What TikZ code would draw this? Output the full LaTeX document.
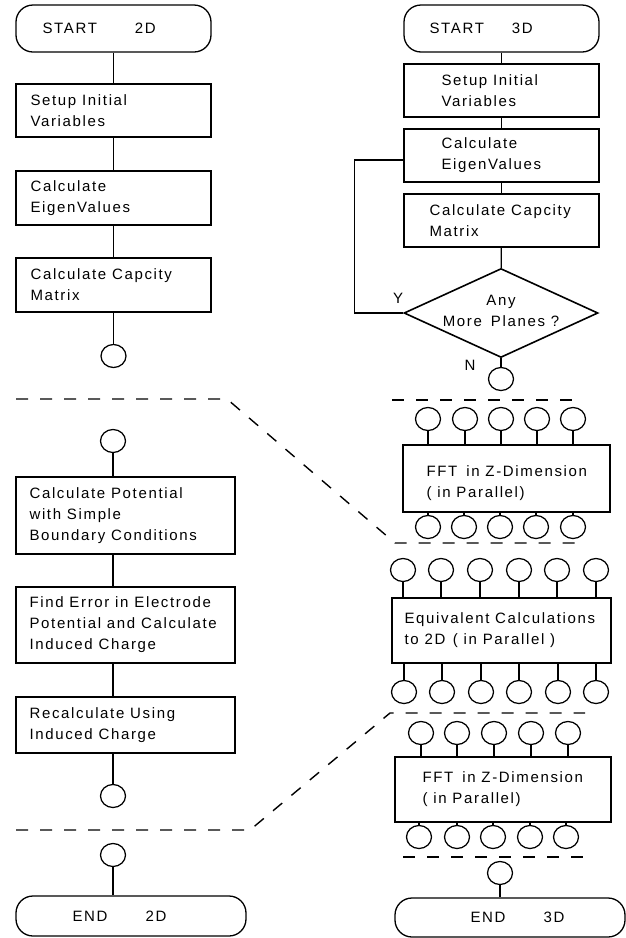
\documentclass[tikz,border=0pt]{standalone}
\usepackage{fontspec}
\setmainfont[LetterSpace=11]{Liberation Sans}
\usetikzlibrary{shapes.geometric}
\begin{document}
\begin{tikzpicture}[x=1pt,y=-1pt,
  ln/.style={line width=1.25pt},
  bx/.style 2 args={draw, line width=1.3pt, rectangle, minimum width=#1, minimum height=#2, inner sep=0pt},
  term/.style 2 args={draw, line width=1.3pt, rectangle, rounded corners=17pt, minimum width=#1, minimum height=#2, inner sep=0pt},
  dot/.style={draw, line width=1.25pt, ellipse, minimum width=25pt, minimum height=23pt, inner sep=0pt},
  txt/.style={inner sep=0pt, align=left, anchor=west, font=\fontsize{15}{21}\selectfont},
  lbl/.style={inner sep=0pt, font=\fontsize{15}{21}\selectfont},
  sep/.style={line width=1.4pt, dash pattern=on 12pt off 12pt},
]
\useasboundingbox (0,0) rectangle (626,938);

% ---------------- left column (2D) ----------------
\node[term={195pt}{47pt}] (s2) at (113.5,28.5) {};
\node[txt] (s2t) at ([xshift=27pt]s2.west) {START\hspace{38pt}2D};
\node[bx={195pt}{53pt}] (l1) at (113.5,110.5) {};
\node[txt] (l1t) at ([xshift=15pt]l1.west) {Setup Initial\\Variables};
\node[bx={195pt}{54pt}] (l2) at (113.5,198) {};
\node[txt] (l2t) at ([xshift=15pt]l2.west) {Calculate\\EigenValues};
\node[bx={195pt}{54pt}] (l3) at (113.5,285) {};
\node[txt] (l3t) at ([xshift=15pt]l3.west) {Calculate Capcity\\Matrix};
\node[dot] (lc1) at (113.5,356) {};
\draw[ln] (s2) -- (l1);
\draw[ln] (l1) -- (l2);
\draw[ln] (l2) -- (l3);
\draw[ln] (l3) -- (lc1);

\node[dot] (lc2) at (113,441) {};
\node[bx={219pt}{77pt}] (la) at (125.5,515.5) {};
\node[txt] (lat) at ([xshift=14pt]la.west) {Calculate Potential\\with Simple\\Boundary Conditions};
\node[bx={219pt}{76pt}] (lb) at (125.5,625) {};
\node[txt] (lbt) at ([xshift=14pt]lb.west) {Find Error in Electrode\\Potential and Calculate\\Induced Charge};
\node[bx={219pt}{56pt}] (lcb) at (125.5,725) {};
\node[txt] (lcbt) at ([xshift=14pt]lcb.west) {Recalculate Using\\Induced Charge};
\node[dot] (lc3) at (113,796) {};
\node[dot] (lc4) at (113,855) {};
\node[term={230pt}{40pt}] (e2) at (131,916) {};
\node[txt] (e2t) at ([xshift=57pt]e2.west) {END\hspace{38pt}2D};
\draw[ln] (lc2.south) -- (lc2.south |- la.north);
\draw[ln] (la.south -| lc2) -- (lc2 |- lb.north);
\draw[ln] (lb.south -| lc2) -- (lc2 |- lcb.north);
\draw[ln] (lcb.south -| lc3) -- (lc3.north);
\draw[ln] (lc4.south) -- (lc4.south |- e2.north);

% ---------------- right column (3D) ----------------
\node[term={195pt}{47pt}] (s3) at (501.5,28.5) {};
\node[txt] (s3t) at ([xshift=26pt]s3.west) {START\hspace{28pt}3D};
\node[bx={195pt}{53pt}] (r1) at (501.5,90.5) {};
\node[txt] (r1t) at ([xshift=38pt]r1.west) {Setup Initial\\Variables};
\node[bx={195pt}{53pt}] (r2) at (501.5,155.5) {};
\node[txt] (r2t) at ([xshift=38pt]r2.west) {Calculate\\EigenValues};
\node[bx={195pt}{53pt}] (r3) at (501.5,220.5) {};
\node[txt] (r3t) at ([xshift=26pt]r3.west) {Calculate Capcity\\Matrix};
\node[draw, diamond, line width=1.6pt, minimum width=194pt, minimum height=89pt, inner sep=0pt] (dia) at (501,313) {};
\node[lbl, align=center] (diat) at (501,311) {Any\hspace{1em}\\More\hspace{0.6em}Planes ?};
\node[lbl] (ylab) at (398,298) {Y};
\node[lbl] (nlab) at (470,365) {N};
\node[dot] (rc1) at (501,379) {};
\draw[ln] (s3) -- (r1);
\draw[ln] (r1) -- (r2);
\draw[ln] (r2) -- (r3);
\draw[ln] (r3) -- (dia);
\draw[ln] (dia.south) -- (rc1);
\draw[ln] (dia.west) -- ++(-49,0) |- ([yshift=-4.5pt]r2.west);

% FFT 1
\node[bx={207pt}{67pt}] (fft1) at (506.5,478.5) {};
\node[txt] (fft1t) at ([xshift=24pt,yshift=-5pt]fft1.west) {FFT\hspace{0.6em}in Z-Dimension\\( in Parallel)};
\foreach \x [count=\i] in {428,465,501,537,573} {
  \node[dot] (fa\i) at (\x,419) {};
  \draw[ln] (fa\i.south) -- (fa\i.south |- fft1.north);
}
\foreach \x [count=\i] in {428,464,500,536,573} {
  \node[dot] (fb\i) at (\x,527) {};
  \draw[ln] (fb\i.north |- fft1.south) -- (fb\i.north);
}

% Equivalent calculations
\node[bx={219pt}{65pt}] (eq) at (501.5,630.5) {};
\node[txt] (eqt) at ([xshift=13pt]eq.west) {Equivalent Calculations\\to 2D\hspace{0.5em}( in Parallel )};
\foreach \x [count=\i] in {403,441,480,519,557,596} {
  \node[dot] (ea\i) at (\x,570) {};
  \draw[ln] (ea\i.south) -- (ea\i.south |- eq.north);
}
\foreach \x [count=\i] in {404,442,481,519,558,596} {
  \node[dot] (eb\i) at (\x,692) {};
  \draw[ln] (eb\i.north |- eq.south) -- (eb\i.north);
}

% FFT 2
\node[bx={216pt}{65pt}] (fft2) at (503,789.5) {};
\node[txt] (fft2t) at ([xshift=28pt]fft2.west) {FFT\hspace{0.6em}in Z-Dimension\\( in Parallel)};
\foreach \x [count=\i] in {421,457,494,531,568} {
  \node[dot] (ga\i) at (\x,733) {};
  \draw[ln] (ga\i.south) -- (ga\i.south |- fft2.north);
}
\foreach \x [count=\i] in {419,457,493,530,566} {
  \node[dot] (gb\i) at (\x,837) {};
  \draw[ln] (gb\i.north |- fft2.south) -- (gb\i.north);
}
\node[dot] (rc2) at (500,873) {};
\node[term={230pt}{39pt}] (e3) at (510,917.5) {};
\node[txt] (e3t) at ([xshift=76pt]e3.west) {END\hspace{38pt}3D};
\draw[ln] (rc2.south) -- (rc2.south |- e3.north);

% ---------------- dashed separators ----------------
\draw[sep] (16,399) -- (227,399) -- (395,543) -- (585,543);
\draw[sep] (392,400) -- (573,400);
\draw[sep] (16,830) -- (250,830) -- (390,713) -- (585,713);
\draw[sep] (403,857) -- (583,857);
\end{tikzpicture}
\end{document}
